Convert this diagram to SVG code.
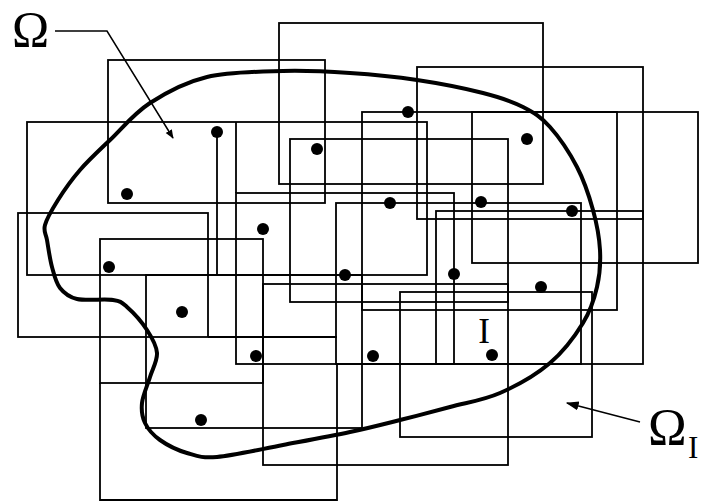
<svg xmlns="http://www.w3.org/2000/svg" width="701" height="502" viewBox="0 0 701 502">
<style>
.box{fill:none;stroke:#000;stroke-width:1.8}
.seg{fill:none;stroke:#000;stroke-width:1.8}
.dot{fill:#000}
.bd{fill:none;stroke:#000;stroke-width:4;stroke-linejoin:round}
.lead{fill:none;stroke:#000;stroke-width:1.5}
.lbl{font-family:"Liberation Serif","Times New Roman",serif;fill:#000}
</style>
<defs>
<marker id="ah" viewBox="0 0 10 10" refX="9" refY="5" markerWidth="9" markerHeight="9" markerUnits="userSpaceOnUse" orient="auto">
<path d="M0,1 L10,5 L0,9 Z" fill="#000"/>
</marker>
<marker id="ah2" viewBox="0 0 10 10" refX="9" refY="5" markerWidth="13" markerHeight="13" markerUnits="userSpaceOnUse" orient="auto">
<path d="M0,1.5 L10,5 L0,8.5 Z" fill="#000"/>
</marker>
</defs>
<rect width="701" height="502" fill="#fff"/>
<g id="boxes">
<rect id="boxA" class="box" x="108" y="60" width="217" height="143"/>
<rect id="boxB" class="box" x="27" y="122" width="400" height="153"/>
<rect id="boxD" class="box" x="279" y="23" width="264" height="161"/>
<rect id="boxE" class="box" x="417" y="67" width="226" height="152"/>
<rect id="boxF" class="box" x="436" y="211" width="207" height="153"/>
<rect id="boxH" class="box" x="472" y="112" width="226" height="151"/>
<rect id="boxI" class="box" x="362" y="112" width="255" height="198"/>
<rect id="boxJ" class="box" x="290" y="139" width="218" height="163"/>
<rect id="boxL" class="box" x="400" y="292" width="192" height="145"/>
<rect id="boxM" class="box" x="146" y="275" width="216" height="153"/>
<rect id="boxN" class="box" x="263" y="284" width="245" height="181"/>
<rect id="boxP" class="box" x="100" y="239" width="163" height="144"/>
<rect id="boxG" class="box" x="18" y="213" width="190" height="124"/>
<rect id="boxR" class="box" x="236" y="193" width="218" height="171"/>
<rect id="boxS" class="box" x="336" y="203" width="245" height="161"/>
<path id="boxQ" class="seg" d="M100,383 V500 H337 V364"/>
<path class="seg" d="M217,132 V275"/>
<path class="seg" d="M236,122 V193"/>
<path class="seg" d="M208,337 H337"/>
</g>
<g id="dots">
<circle class="dot" cx="217" cy="132" r="6"/>
<circle class="dot" cx="127" cy="194" r="6"/>
<circle class="dot" cx="317" cy="149" r="6"/>
<circle class="dot" cx="408" cy="112" r="6"/>
<circle class="dot" cx="527" cy="139" r="6"/>
<circle class="dot" cx="263" cy="229" r="6"/>
<circle class="dot" cx="390" cy="203" r="6"/>
<circle class="dot" cx="481" cy="202" r="6"/>
<circle class="dot" cx="572" cy="211" r="6"/>
<circle class="dot" cx="109" cy="267" r="6"/>
<circle class="dot" cx="345" cy="275" r="6"/>
<circle class="dot" cx="454" cy="274" r="6"/>
<circle class="dot" cx="541" cy="287" r="6"/>
<circle class="dot" cx="182" cy="312" r="6"/>
<circle class="dot" cx="256" cy="356" r="6"/>
<circle class="dot" cx="373" cy="356" r="6"/>
<circle class="dot" cx="492" cy="355" r="6"/>
<circle class="dot" cx="201" cy="420" r="6"/>
</g>
<g id="boundary">
<path class="bd" d="M45,225 C46.8,218.3 52.2,209.2 58,200 C63.8,190.8 71.3,180 80,170 C88.7,160 98.3,151.2 110,140 C121.7,128.8 133.8,113.5 150,103 C166.2,92.5 184.8,82.3 207,77 C229.2,71.7 259.2,71.7 283,71 C306.8,70.3 327.7,71.5 350,73 C372.3,74.5 394.8,76.7 417,80 C439.2,83.3 465.3,88.5 483,93 C500.7,97.5 511.8,101.3 523,107 C534.2,112.7 541,117 550,127 C559,137 569.8,153.2 577,167 C584.2,180.8 589.2,196.2 593,210 C596.8,223.8 599.3,237.2 600,250 C600.7,262.8 599.8,274.8 597,287 C594.2,299.2 590.8,310.3 583,323 C575.2,335.7 563.8,351.3 550,363 C536.2,374.7 516.7,385.7 500,393 C483.3,400.3 466.7,402.5 450,407 C433.3,411.5 416.7,415.8 400,420 C383.3,424.2 369.5,427.8 350,432 C330.5,436.2 305.2,440.8 283,445 C260.8,449.2 233,455.7 217,457 C201,458.3 196.5,455.8 187,453 C177.5,450.2 167,445 160,440 C153,435 148,429.2 145,423 C142,416.8 141.2,410.7 142,403 C142.8,395.3 147.5,385.3 150,377 C152.5,368.7 157.5,360.8 157,353 C156.5,345.2 152,337.7 147,330 C142,322.3 132.7,312 127,307 C121.3,302 121.3,301.3 113,300 C104.7,298.7 85.8,301 77,299 C68.2,297 64.2,293.3 60,288 C55.8,282.7 54.2,275 52,267 C49.8,259 48.2,247 47,240 C45.8,233 43.2,231.7 45,225 Z"/>
</g>
<g id="connectors">
<path class="lead" d="M55,31 H107 L173,138" marker-end="url(#ah)"/>
<path class="lead" d="M640,422 L567,403" marker-end="url(#ah2)"/>
</g>
<g id="labels">
<text class="lbl" x="12" y="46" font-size="50">Ω</text>
<text class="lbl" x="648" y="445" font-size="52">Ω</text>
<text class="lbl" x="688" y="458" font-size="31">I</text>
<text class="lbl" x="484" y="343" font-size="35" text-anchor="middle">I</text>
</g>
</svg>
